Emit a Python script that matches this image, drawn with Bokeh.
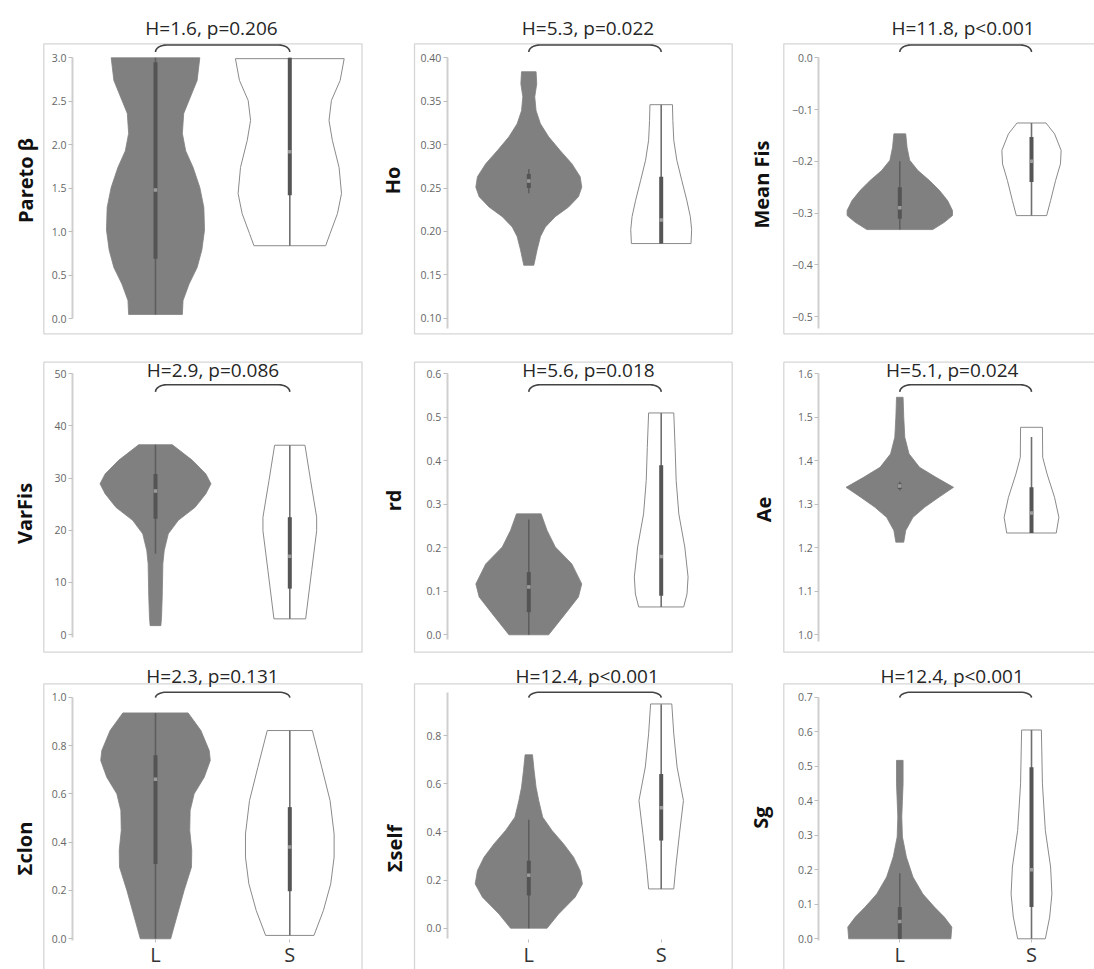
import numpy as np
from bokeh.plotting import figure
from bokeh.layouts import gridplot
from bokeh.models import Range1d, FixedTicker
from bokeh.core.properties import value
from bokeh.embed import file_html
from bokeh.resources import INLINE

# ---------------- data ----------------
groups = ["L", "S"]
metrics = ["Pareto β", "Ho", "Mean Fis", "VarFis", "rd", "Ae", "Σclon", "Σself", "Sg"]
h_stat = ["1.6", "5.3", "11.8", "2.9", "5.6", "5.1", "2.3", "12.4", "12.4"]
p_text = ["p=0.206", "p=0.022", "p<0.001", "p=0.086", "p=0.018", "p=0.024", "p=0.131", "p<0.001", "p<0.001"]

# violin outlines: y values and half-widths (x units)
pareto_L_y = [0.05, 0.21, 0.40, 0.59, 0.79, 1.02, 1.28, 1.51, 1.74, 1.93, 2.13, 2.36, 2.55, 2.74, 3.00]
pareto_L_w = [0.20, 0.205, 0.25, 0.31, 0.345, 0.365, 0.36, 0.33, 0.28, 0.225, 0.20, 0.21, 0.26, 0.31, 0.33]
pareto_S_y = [0.84, 0.98, 1.21, 1.44, 1.74, 2.05, 2.28, 2.51, 2.74, 2.99]
pareto_S_w = [0.267, 0.30, 0.355, 0.385, 0.367, 0.317, 0.292, 0.31, 0.375, 0.405]

ho_L_y = [0.161, 0.179, 0.194, 0.205, 0.217, 0.228, 0.240, 0.251, 0.263, 0.278, 0.293, 0.309, 0.324, 0.339, 0.355, 0.370, 0.384]
ho_L_w = [0.038, 0.063, 0.088, 0.125, 0.20, 0.30, 0.375, 0.40, 0.388, 0.325, 0.238, 0.15, 0.088, 0.055, 0.045, 0.06, 0.055]
ho_S_y = [0.186, 0.202, 0.217, 0.236, 0.259, 0.282, 0.305, 0.328, 0.346]
ho_S_w = [0.225, 0.23, 0.22, 0.193, 0.155, 0.118, 0.095, 0.088, 0.085]

fis_L_y = [-0.332, -0.318, -0.305, -0.295, -0.276, -0.256, -0.237, -0.218, -0.198, -0.173, -0.147]
fis_L_w = [0.25, 0.338, 0.40, 0.40, 0.363, 0.30, 0.225, 0.138, 0.075, 0.055, 0.045]
fis_S_y = [-0.305, -0.276, -0.237, -0.205, -0.179, -0.147, -0.126]
fis_S_w = [0.115, 0.145, 0.183, 0.22, 0.225, 0.175, 0.11]

varfis_L_y = [1.7, 3.3, 7.2, 13.6, 16.1, 19.3, 21.9, 24.4, 27.0, 28.9, 30.8, 33.4, 36.4]
varfis_L_w = [0.04, 0.045, 0.05, 0.055, 0.065, 0.095, 0.17, 0.295, 0.375, 0.413, 0.375, 0.275, 0.125]
varfis_S_y = [3.0, 12.3, 19.9, 22.5, 29.5, 36.3]
varfis_S_w = [0.118, 0.163, 0.20, 0.20, 0.155, 0.113]

rd_L_y = [0.0, 0.048, 0.087, 0.117, 0.163, 0.202, 0.240, 0.278]
rd_L_w = [0.15, 0.275, 0.375, 0.40, 0.325, 0.20, 0.138, 0.093]
rd_S_y = [0.064, 0.094, 0.133, 0.202, 0.278, 0.355, 0.431, 0.510]
rd_S_w = [0.17, 0.195, 0.203, 0.178, 0.133, 0.113, 0.105, 0.095]

ae_L_y = [1.213, 1.240, 1.270, 1.293, 1.317, 1.339, 1.362, 1.385, 1.416, 1.454, 1.500, 1.546]
ae_L_w = [0.03, 0.045, 0.10, 0.188, 0.30, 0.408, 0.275, 0.15, 0.07, 0.038, 0.03, 0.025]
ae_S_y = [1.234, 1.270, 1.316, 1.370, 1.408, 1.477]
ae_S_w = [0.188, 0.208, 0.175, 0.118, 0.085, 0.083]

clon_L_y = [0.0, 0.090, 0.200, 0.297, 0.366, 0.448, 0.531, 0.600, 0.669, 0.738, 0.779, 0.862, 0.935]
clon_L_w = [0.113, 0.158, 0.213, 0.268, 0.27, 0.255, 0.258, 0.288, 0.363, 0.408, 0.40, 0.338, 0.243]
clon_S_y = [0.014, 0.117, 0.228, 0.338, 0.434, 0.572, 0.710, 0.862]
clon_S_w = [0.18, 0.25, 0.305, 0.33, 0.33, 0.30, 0.238, 0.168]

self_L_y = [0.0, 0.059, 0.129, 0.184, 0.239, 0.295, 0.350, 0.406, 0.461, 0.530, 0.585, 0.655, 0.720]
self_L_w = [0.138, 0.225, 0.35, 0.405, 0.388, 0.338, 0.263, 0.175, 0.105, 0.075, 0.055, 0.04, 0.028]
self_S_y = [0.163, 0.253, 0.392, 0.530, 0.669, 0.807, 0.931]
self_S_w = [0.095, 0.11, 0.138, 0.168, 0.12, 0.095, 0.08]

sg_L_y = [0.0, 0.034, 0.063, 0.092, 0.130, 0.179, 0.237, 0.295, 0.353, 0.401, 0.449, 0.517]
sg_L_w = [0.388, 0.395, 0.338, 0.263, 0.175, 0.10, 0.05, 0.02, 0.015, 0.02, 0.025, 0.025]
sg_S_y = [0.0, 0.063, 0.130, 0.208, 0.314, 0.449, 0.605]
sg_S_w = [0.105, 0.138, 0.155, 0.145, 0.105, 0.083, 0.075]

# inner box stats: [whisker low, q1, median, q3, whisker high]
pareto_L_box = [0.05, 0.69, 1.48, 2.95, 3.0]
pareto_S_box = [0.84, 1.42, 1.92, 3.0, 3.0]
ho_L_box = [0.244, 0.250, 0.258, 0.266, 0.272]
ho_S_box = [0.186, 0.186, 0.213, 0.263, 0.346]
fis_L_box = [-0.332, -0.311, -0.29, -0.25, -0.20]
fis_S_box = [-0.305, -0.240, -0.20, -0.153, -0.126]
varfis_L_box = [15.5, 22.2, 27.5, 30.8, 36.4]
varfis_S_box = [3.0, 8.8, 15.0, 22.5, 36.3]
rd_L_box = [0.0, 0.052, 0.11, 0.144, 0.265]
rd_S_box = [0.064, 0.09, 0.18, 0.39, 0.51]
ae_L_box = [1.332, 1.335, 1.342, 1.348, 1.352]
ae_S_box = [1.234, 1.234, 1.28, 1.339, 1.455]
clon_L_box = [0.0, 0.31, 0.66, 0.76, 0.935]
clon_S_box = [0.014, 0.197, 0.38, 0.545, 0.862]
self_L_box = [0.0, 0.136, 0.22, 0.28, 0.45]
self_S_box = [0.163, 0.364, 0.50, 0.64, 0.93]
sg_L_box = [0.0, 0.0, 0.05, 0.092, 0.19]
sg_S_box = [0.0, 0.092, 0.2, 0.497, 0.605]

# y ticks and labels
pareto_ticks = [0.0, 0.5, 1.0, 1.5, 2.0, 2.5, 3.0]
pareto_labels = ["0.0", "0.5", "1.0", "1.5", "2.0", "2.5", "3.0"]
ho_ticks = [0.10, 0.15, 0.20, 0.25, 0.30, 0.35, 0.40]
ho_labels = ["0.10", "0.15", "0.20", "0.25", "0.30", "0.35", "0.40"]
fis_ticks = [-0.5, -0.4, -0.3, -0.2, -0.1, 0.0]
fis_labels = ["−0.5", "−0.4", "−0.3", "−0.2", "−0.1", "0.0"]
varfis_ticks = [0, 10, 20, 30, 40, 50]
varfis_labels = ["0", "10", "20", "30", "40", "50"]
rd_ticks = [0.0, 0.1, 0.2, 0.3, 0.4, 0.5, 0.6]
rd_labels = ["0.0", "0.1", "0.2", "0.3", "0.4", "0.5", "0.6"]
ae_ticks = [1.0, 1.1, 1.2, 1.3, 1.4, 1.5, 1.6]
ae_labels = ["1.0", "1.1", "1.2", "1.3", "1.4", "1.5", "1.6"]
clon_ticks = [0.0, 0.2, 0.4, 0.6, 0.8, 1.0]
clon_labels = ["0.0", "0.2", "0.4", "0.6", "0.8", "1.0"]
self_ticks = [0.0, 0.2, 0.4, 0.6, 0.8]
self_labels = ["0.0", "0.2", "0.4", "0.6", "0.8"]
sg_ticks = [0.0, 0.1, 0.2, 0.3, 0.4, 0.5, 0.6, 0.7]
sg_labels = ["0.0", "0.1", "0.2", "0.3", "0.4", "0.5", "0.6", "0.7"]

# y-axis line extent (data units)
axis_bounds = [(0.0, 3.0), (0.088, 0.40), (-0.523, 0.0), (-0.6, 50.0), (-0.01, 0.6),
               (0.985, 1.6), (-0.005, 1.0), (-0.044, 0.98), (-0.005, 0.7)]

panels = [
    (pareto_L_y, pareto_L_w, pareto_S_y, pareto_S_w, pareto_L_box, pareto_S_box, pareto_ticks, pareto_labels),
    (ho_L_y, ho_L_w, ho_S_y, ho_S_w, ho_L_box, ho_S_box, ho_ticks, ho_labels),
    (fis_L_y, fis_L_w, fis_S_y, fis_S_w, fis_L_box, fis_S_box, fis_ticks, fis_labels),
    (varfis_L_y, varfis_L_w, varfis_S_y, varfis_S_w, varfis_L_box, varfis_S_box, varfis_ticks, varfis_labels),
    (rd_L_y, rd_L_w, rd_S_y, rd_S_w, rd_L_box, rd_S_box, rd_ticks, rd_labels),
    (ae_L_y, ae_L_w, ae_S_y, ae_S_w, ae_L_box, ae_S_box, ae_ticks, ae_labels),
    (clon_L_y, clon_L_w, clon_S_y, clon_S_w, clon_L_box, clon_S_box, clon_ticks, clon_labels),
    (self_L_y, self_L_w, self_S_y, self_S_w, self_L_box, self_S_box, self_ticks, self_labels),
    (sg_L_y, sg_L_w, sg_S_y, sg_S_w, sg_L_box, sg_S_box, sg_ticks, sg_labels),
]

# ---------------- layout (picture pixels) ----------------
COL_FIG = [(0, 366), (366, 736), (736, 1094)]
ROW_FIG = [(0, 336), (336, 656), (656, 969)]
COL_CAT = [(155.0, 289.3), (528.3, 660.7), (899.3, 1031.0)]
COL_AXIS = [72.0, 446.7, 818.3]
COL_BOX = [(43.3, 361.5), (414.0, 731.7), (783.3, 1130.0)]
ROW_BOX = [(43.3, 333.3), (361.7, 651.7), (683.3, 1000.0)]
# (top tick value, its px, bottom tick value, its px)
Y_MAP = [(3.0, 57.3, 0.0, 318.3), (0.40, 57.3, 0.10, 317.7), (0.0, 57.3, -0.5, 316.0),
         (50, 373.3, 0, 634.0), (0.6, 373.3, 0.0, 634.3), (1.6, 373.3, 1.0, 634.3),
         (1.0, 696.7, 0.0, 938.3), (0.8, 735.0, 0.0, 927.7), (0.7, 696.7, 0.0, 938.3)]
TITLE_POS = [(211, 27), (587.5, 27), (962.5, 27), (212.5, 369), (588, 369), (951.7, 369),
             (212, 675), (586.7, 675), (951.7, 675)]
YLAB_POS = [(25, 180), (392, 180), (761, 184), (24, 513), (393, 500), (763, 509),
            (24, 848), (394, 848), (760, 817)]
BRACKET_TOP = [44.5, 384.3, 691.7]
BRACKET_DROP = [7.0, 7.0, 5.5]
XAXIS_PX = 938.5

FONT = "Open Sans"
L_FILL = "#808080"


def make_panel(i):
    r, c = divmod(i, 3)
    fx0, fx1 = COL_FIG[c]
    fy0, fy1 = ROW_FIG[r]
    lpx, spx = COL_CAT[c]
    ppx = spx - lpx

    def X(px):
        return 1.0 + (px - lpx) / ppx

    vt, pt, vb, pb = Y_MAP[i]
    ppy = (pb - pt) / (vt - vb)

    def Y(px):
        return vt - (px - pt) / ppy

    p = figure(width=fx1 - fx0, height=fy1 - fy0,
               x_range=Range1d(X(fx0), X(fx1)), y_range=Range1d(Y(fy1), Y(fy0)),
               min_border=0, toolbar_location=None, output_backend="svg",
               x_axis_type="linear" if r == 2 else None)
    p.outline_line_color = None
    p.xgrid.visible = False
    p.ygrid.visible = False
    p.background_fill_color = "white"
    p.border_fill_color = "white"

    Ly, Lw, Sy, Sw, Lbox, Sbox, ticks, labels = panels[i]

    # panel frame
    bx0, bx1 = COL_BOX[c]
    by0, by1 = ROW_BOX[r]
    p.quad(left=[X(bx0)], right=[X(bx1)], top=[Y(by0)], bottom=[Y(by1)],
           fill_color=None, line_color="#d6d6d6", line_width=1.3)

    # y axis inside the frame
    yax = p.yaxis[0]
    yax.fixed_location = X(COL_AXIS[c])
    yax.bounds = axis_bounds[i]
    yax.ticker = FixedTicker(ticks=ticks)
    yax.major_label_overrides = {t: lab for t, lab in zip(ticks, labels)}
    yax.minor_tick_line_color = None
    yax.major_tick_in = 0
    yax.major_tick_out = 4
    yax.major_tick_line_color = "#bdbdbd"
    yax.axis_line_color = "#cfcfcf"
    yax.axis_line_width = 2
    yax.major_label_text_font = FONT
    yax.major_label_text_font_size = "10.5px"
    yax.major_label_text_color = "#666666"
    yax.major_label_standoff = 2

    if r == 2:
        xax = p.xaxis[0]
        xax.fixed_location = Y(XAXIS_PX)
        xax.ticker = FixedTicker(ticks=[1, 2])
        xax.major_label_overrides = {1: groups[0], 2: groups[1]}
        xax.axis_line_color = None
        xax.minor_tick_line_color = None
        xax.major_tick_in = 0
        xax.major_tick_out = 3
        xax.major_tick_line_color = "#bdbdbd"
        xax.major_label_text_font = FONT
        xax.major_label_text_font_size = "20px"
        xax.major_label_text_color = "#333333"
        xax.major_label_standoff = -1

    # violins
    for k, (vy, vw, box) in enumerate([(Ly, Lw, Lbox), (Sy, Sw, Sbox)]):
        cx = 1.0 + k
        vy = np.asarray(vy, float)
        vw = np.asarray(vw, float)
        xs = np.concatenate([cx - vw, (cx + vw)[::-1]])
        ys = np.concatenate([vy, vy[::-1]])
        if k == 0:
            p.patch(xs, ys, fill_color=L_FILL, line_color=L_FILL, line_width=0.8)
            wcol, bcol = "#5e5e5e", "#545454"
        else:
            p.patch(xs, ys, fill_color="white", line_color="#8a8a8a", line_width=1.0)
            wcol, bcol = "#707070", "#555555"
        lo, q1, med, q3, hi = box
        p.segment(x0=[cx], y0=[lo], x1=[cx], y1=[hi], line_color=wcol, line_width=1.6)
        p.segment(x0=[cx], y0=[q1], x1=[cx], y1=[q3], line_color=bcol, line_width=4)
        p.scatter(x=[cx], y=[med], marker="square", size=3.5,
                  fill_color="#9c9c9c", line_color=None)

    # bracket between groups
    bt = BRACKET_TOP[r]
    bd = BRACKET_DROP[r]
    rx = 11.0 / ppx
    t = np.linspace(0, np.pi / 2, 10)
    yt = Y(bt)
    ry = bd / ppy
    left_x = 1.0 + rx * (1 - np.cos(t))
    left_y = yt - ry * (1 - np.sin(t))
    right_x = 2.0 - rx * (1 - np.cos(t))[::-1]
    right_y = (yt - ry * (1 - np.sin(t)))[::-1]
    p.line(np.concatenate([left_x, right_x]), np.concatenate([left_y, right_y]),
           line_color="#444444", line_width=1.6)

    # title text
    tx, ty = TITLE_POS[i]
    p.text(x=[X(tx)], y=[Y(ty)], text=[f"H={h_stat[i]}, {p_text[i]}"],
           text_align="center", text_baseline="alphabetic",
           text_font=value(FONT), text_font_size="19px", text_color="#262626")

    # y label
    lx, ly = YLAB_POS[i]
    p.text(x=[X(lx)], y=[Y(ly)], text=[metrics[i]], angle=np.pi / 2,
           text_align="center", text_baseline="middle",
           text_font=value(FONT), text_font_style="bold", text_font_size="20px",
           text_color="#111111")
    return p


figs = [make_panel(i) for i in range(9)]
grid = gridplot([figs[0:3], figs[3:6], figs[6:9]], toolbar_location=None)

open("out.html", "w").write(file_html(grid, INLINE))
